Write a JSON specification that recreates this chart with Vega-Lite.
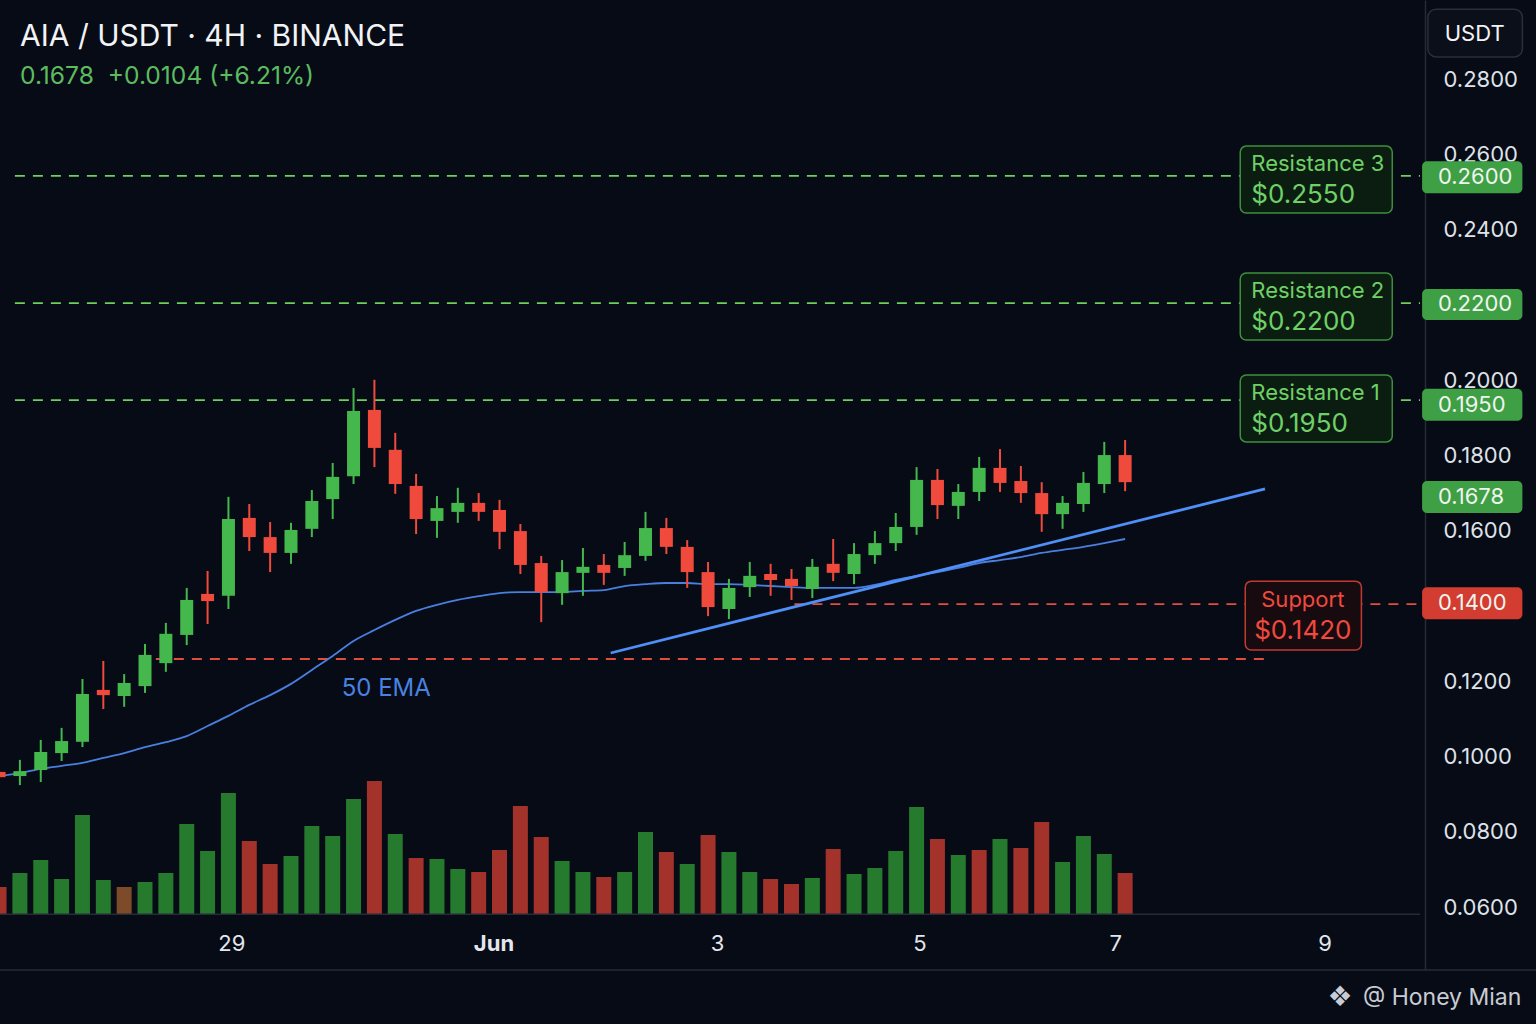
{
  "$schema": "https://vega.github.io/schema/vega-lite/v6.json",
  "width": 1425,
  "height": 970,
  "autosize": "none",
  "padding": {"left": 0, "top": 0, "right": 111, "bottom": 54},
  "background": "#060b16",
  "title": {
    "text": "AIA / USDT · 4H · BINANCE",
    "subtitle": "0.1678\u00a0 +0.0104 (+6.21%)",
    "anchor": "start",
    "frame": "group",
    "orient": "top",
    "offset": -89,
    "dx": 20,
    "font": "Inter",
    "fontSize": 30,
    "fontWeight": "normal",
    "color": "#f2f3f5",
    "subtitleFont": "Inter",
    "subtitleFontSize": 24.6,
    "subtitleColor": "#5dbb5f",
    "subtitlePadding": 13
  },
  "config": {"view": {"stroke": null}, "font": "Inter"},
  "datasets": {
    "candles": [
      {"i": 0, "o": 0.0959, "h": 0.0964, "l": 0.0940, "c": 0.0945, "v": 270, "vd": "d", "ema": 0.0948},
      {"i": 1, "o": 0.0948, "h": 0.0991, "l": 0.0924, "c": 0.0961, "v": 410, "vd": "u", "ema": 0.0956},
      {"i": 2, "o": 0.0964, "h": 0.1044, "l": 0.0932, "c": 0.1012, "v": 540, "vd": "u", "ema": 0.0967},
      {"i": 3, "o": 0.1009, "h": 0.1076, "l": 0.0988, "c": 0.1041, "v": 350, "vd": "u", "ema": 0.0975},
      {"i": 4, "o": 0.1039, "h": 0.1206, "l": 0.1025, "c": 0.1166, "v": 990, "vd": "u", "ema": 0.0983},
      {"i": 5, "o": 0.1177, "h": 0.1254, "l": 0.1126, "c": 0.1163, "v": 340, "vd": "u", "ema": 0.0996},
      {"i": 6, "o": 0.1161, "h": 0.1219, "l": 0.1132, "c": 0.1195, "v": 270, "vd": "m", "ema": 0.1009},
      {"i": 7, "o": 0.1187, "h": 0.1299, "l": 0.1169, "c": 0.1270, "v": 320, "vd": "u", "ema": 0.1025},
      {"i": 8, "o": 0.1248, "h": 0.1355, "l": 0.1225, "c": 0.1326, "v": 410, "vd": "u", "ema": 0.1038},
      {"i": 9, "o": 0.1323, "h": 0.1448, "l": 0.1296, "c": 0.1416, "v": 900, "vd": "u", "ema": 0.1054},
      {"i": 10, "o": 0.1432, "h": 0.1493, "l": 0.1352, "c": 0.1413, "v": 630, "vd": "u", "ema": 0.1081},
      {"i": 11, "o": 0.1427, "h": 0.1690, "l": 0.1392, "c": 0.1631, "v": 1210, "vd": "u", "ema": 0.1108},
      {"i": 12, "o": 0.1634, "h": 0.1671, "l": 0.1546, "c": 0.1583, "v": 730, "vd": "d", "ema": 0.1137},
      {"i": 13, "o": 0.1583, "h": 0.1623, "l": 0.1490, "c": 0.1541, "v": 500, "vd": "d", "ema": 0.1163},
      {"i": 14, "o": 0.1541, "h": 0.1621, "l": 0.1512, "c": 0.1602, "v": 580, "vd": "u", "ema": 0.1193},
      {"i": 15, "o": 0.1605, "h": 0.1708, "l": 0.1583, "c": 0.1679, "v": 880, "vd": "u", "ema": 0.1230},
      {"i": 16, "o": 0.1684, "h": 0.1780, "l": 0.1631, "c": 0.1743, "v": 780, "vd": "u", "ema": 0.1267},
      {"i": 17, "o": 0.1745, "h": 0.1979, "l": 0.1724, "c": 0.1918, "v": 1150, "vd": "u", "ema": 0.1307},
      {"i": 18, "o": 0.1921, "h": 0.2001, "l": 0.1769, "c": 0.1820, "v": 1330, "vd": "d", "ema": 0.1336},
      {"i": 19, "o": 0.1815, "h": 0.1860, "l": 0.1698, "c": 0.1724, "v": 800, "vd": "u", "ema": 0.1363},
      {"i": 20, "o": 0.1719, "h": 0.1751, "l": 0.1591, "c": 0.1631, "v": 560, "vd": "d", "ema": 0.1387},
      {"i": 21, "o": 0.1626, "h": 0.1692, "l": 0.1581, "c": 0.1660, "v": 550, "vd": "u", "ema": 0.1403},
      {"i": 22, "o": 0.1650, "h": 0.1714, "l": 0.1621, "c": 0.1674, "v": 450, "vd": "u", "ema": 0.1416},
      {"i": 23, "o": 0.1674, "h": 0.1700, "l": 0.1626, "c": 0.1650, "v": 420, "vd": "d", "ema": 0.1426},
      {"i": 24, "o": 0.1655, "h": 0.1682, "l": 0.1551, "c": 0.1597, "v": 640, "vd": "d", "ema": 0.1434},
      {"i": 25, "o": 0.1599, "h": 0.1618, "l": 0.1485, "c": 0.1509, "v": 1080, "vd": "d", "ema": 0.1437},
      {"i": 26, "o": 0.1514, "h": 0.1533, "l": 0.1357, "c": 0.1437, "v": 770, "vd": "d", "ema": 0.1437},
      {"i": 27, "o": 0.1434, "h": 0.1522, "l": 0.1403, "c": 0.1490, "v": 530, "vd": "u", "ema": 0.1437},
      {"i": 28, "o": 0.1488, "h": 0.1554, "l": 0.1427, "c": 0.1504, "v": 420, "vd": "u", "ema": 0.1440},
      {"i": 29, "o": 0.1509, "h": 0.1538, "l": 0.1456, "c": 0.1488, "v": 370, "vd": "d", "ema": 0.1442},
      {"i": 30, "o": 0.1501, "h": 0.1570, "l": 0.1480, "c": 0.1535, "v": 420, "vd": "u", "ema": 0.1453},
      {"i": 31, "o": 0.1533, "h": 0.1650, "l": 0.1520, "c": 0.1607, "v": 820, "vd": "u", "ema": 0.1458},
      {"i": 32, "o": 0.1607, "h": 0.1634, "l": 0.1538, "c": 0.1557, "v": 620, "vd": "d", "ema": 0.1461},
      {"i": 33, "o": 0.1557, "h": 0.1575, "l": 0.1448, "c": 0.1490, "v": 500, "vd": "u", "ema": 0.1461},
      {"i": 34, "o": 0.1490, "h": 0.1517, "l": 0.1373, "c": 0.1397, "v": 790, "vd": "d", "ema": 0.1458},
      {"i": 35, "o": 0.1392, "h": 0.1472, "l": 0.1365, "c": 0.1448, "v": 620, "vd": "u", "ema": 0.1458},
      {"i": 36, "o": 0.1450, "h": 0.1517, "l": 0.1424, "c": 0.1480, "v": 420, "vd": "u", "ema": 0.1456},
      {"i": 37, "o": 0.1485, "h": 0.1512, "l": 0.1427, "c": 0.1469, "v": 350, "vd": "d", "ema": 0.1453},
      {"i": 38, "o": 0.1472, "h": 0.1498, "l": 0.1416, "c": 0.1453, "v": 300, "vd": "d", "ema": 0.1450},
      {"i": 39, "o": 0.1445, "h": 0.1525, "l": 0.1421, "c": 0.1504, "v": 360, "vd": "u", "ema": 0.1448},
      {"i": 40, "o": 0.1512, "h": 0.1578, "l": 0.1466, "c": 0.1488, "v": 650, "vd": "d", "ema": 0.1448},
      {"i": 41, "o": 0.1485, "h": 0.1567, "l": 0.1458, "c": 0.1538, "v": 400, "vd": "u", "ema": 0.1448},
      {"i": 42, "o": 0.1535, "h": 0.1599, "l": 0.1512, "c": 0.1567, "v": 460, "vd": "u", "ema": 0.1456},
      {"i": 43, "o": 0.1567, "h": 0.1647, "l": 0.1546, "c": 0.1610, "v": 630, "vd": "u", "ema": 0.1469},
      {"i": 44, "o": 0.1610, "h": 0.1769, "l": 0.1589, "c": 0.1735, "v": 1070, "vd": "u", "ema": 0.1480},
      {"i": 45, "o": 0.1735, "h": 0.1764, "l": 0.1631, "c": 0.1668, "v": 750, "vd": "d", "ema": 0.1490},
      {"i": 46, "o": 0.1666, "h": 0.1724, "l": 0.1631, "c": 0.1703, "v": 590, "vd": "u", "ema": 0.1501},
      {"i": 47, "o": 0.1703, "h": 0.1796, "l": 0.1679, "c": 0.1767, "v": 640, "vd": "d", "ema": 0.1514},
      {"i": 48, "o": 0.1767, "h": 0.1817, "l": 0.1703, "c": 0.1727, "v": 750, "vd": "u", "ema": 0.1522},
      {"i": 49, "o": 0.1732, "h": 0.1772, "l": 0.1674, "c": 0.1700, "v": 660, "vd": "d", "ema": 0.1530},
      {"i": 50, "o": 0.1700, "h": 0.1729, "l": 0.1597, "c": 0.1644, "v": 920, "vd": "d", "ema": 0.1541},
      {"i": 51, "o": 0.1644, "h": 0.1692, "l": 0.1605, "c": 0.1674, "v": 520, "vd": "u", "ema": 0.1549},
      {"i": 52, "o": 0.1671, "h": 0.1756, "l": 0.1650, "c": 0.1727, "v": 780, "vd": "u", "ema": 0.1557},
      {"i": 53, "o": 0.1724, "h": 0.1836, "l": 0.1700, "c": 0.1801, "v": 600, "vd": "u", "ema": 0.1567},
      {"i": 54, "o": 0.1801, "h": 0.1841, "l": 0.1705, "c": 0.1729, "v": 410, "vd": "d", "ema": 0.1578}
    ],
    "levels": [
      {"name": "Resistance 3", "kind": "res", "p": 0.2543, "x1": 0.76, "x2": 68.14},
      {"name": "Resistance 2", "kind": "res", "p": 0.2205, "x1": 0.76, "x2": 68.14},
      {"name": "Resistance 1", "kind": "res", "p": 0.1947, "x1": 0.76, "x2": 68.14},
      {"name": "Support", "kind": "sup", "p": 0.1405, "x1": 38.14, "x2": 68.14},
      {"name": "Lower support", "kind": "sup", "p": 0.1259, "x1": 7.52, "x2": 60.67}
    ],
    "boxes": [
      {"name": "Resistance 3", "price": "$0.2550", "kind": "res", "x1": 59.52, "x2": 66.81, "y1": 0.2622, "y2": 0.2444, "tx": 60.05, "ny": 0.2575, "py": 0.2492},
      {"name": "Resistance 2", "price": "$0.2200", "kind": "res", "x1": 59.52, "x2": 66.81, "y1": 0.2285, "y2": 0.2107, "tx": 60.05, "ny": 0.2237, "py": 0.2155},
      {"name": "Resistance 1", "price": "$0.1950", "kind": "res", "x1": 59.52, "x2": 66.81, "y1": 0.2014, "y2": 0.1836, "tx": 60.05, "ny": 0.1966, "py": 0.1884},
      {"name": "Support", "price": "$0.1420", "kind": "sup", "x1": 59.76, "x2": 65.33, "y1": 0.1466, "y2": 0.1283, "tx": 62.52, "ny": 0.1416, "py": 0.1334}
    ],
    "pills": [
      {"label": "0.2600", "kind": "res", "y1": 0.2582, "y2": 0.2497, "ty": 0.2540},
      {"label": "0.2200", "kind": "res", "y1": 0.2242, "y2": 0.2160, "ty": 0.2202},
      {"label": "0.1950", "kind": "res", "y1": 0.1977, "y2": 0.1892, "ty": 0.1934},
      {"label": "0.1678", "kind": "last", "y1": 0.1732, "y2": 0.1647, "ty": 0.1690},
      {"label": "0.1400", "kind": "sup", "y1": 0.1450, "y2": 0.1365, "ty": 0.1408}
    ],
    "trend": [
      {"i": 29.33, "p": 0.1275},
      {"i": 60.71, "p": 0.1711}
    ]
  },
  "layer": [
    {
      "data": {"name": "candles"},
      "mark": {"type": "bar", "width": 15, "orient": "vertical"},
      "encoding": {
        "x": {
          "field": "i", "type": "quantitative",
          "scale": {"domain": [0.2857, 68.14], "nice": false, "zero": false},
          "axis": {
            "values": [11.14, 23.71, 34.43, 44.14, 53.52, 63.57],
            "labelExpr": "datum.value < 15 ? '29' : datum.value < 30 ? 'Jun' : datum.value < 40 ? '3' : datum.value < 50 ? '5' : datum.value < 60 ? '7' : '9'",
            "title": null, "domain": false, "ticks": false, "grid": false,
            "labelPadding": -27, "labelBaseline": "middle",
            "labelFont": "Inter", "labelFontSize": 22, "labelColor": "#e3e6ec",
            "labelFontWeight": {"condition": {"test": "datum.value > 20 && datum.value < 30", "value": "bold"}, "value": "normal"},
            "labelOverlap": false, "labelFlush": false
          }
        },
        "y": {
          "field": "v", "type": "quantitative", "stack": null,
          "scale": {"domain": [-560, 9140], "nice": false, "zero": false},
          "axis": null
        },
        "y2": {"datum": 0},
        "color": {
          "field": "vd", "type": "nominal",
          "scale": {"domain": ["u", "d", "m"], "range": ["#257a2e", "#a3322b", "#7d4a2a"]},
          "legend": null
        }
      }
    },
    {
      "data": {"values": [{}]},
      "mark": {"type": "rule", "color": "#262b36", "strokeWidth": 1.5},
      "encoding": {
        "x": {"datum": -1, "type": "quantitative", "scale": {"domain": [0.2857, 68.14], "nice": false, "zero": false}, "axis": null},
        "x2": {"datum": 68.14},
        "y": {"datum": 0.0581, "type": "quantitative", "scale": {"domain": [0.04326, 0.30103], "nice": false, "zero": false}, "axis": null}
      }
    },
    {
      "data": {"name": "levels"},
      "transform": [{"filter": "datum.kind == 'res'"}],
      "mark": {"type": "rule", "color": "#6ccf5e", "strokeWidth": 1.8, "strokeDash": [10, 8]},
      "encoding": {
        "x": {"field": "x1", "type": "quantitative", "scale": {"domain": [0.2857, 68.14], "nice": false, "zero": false}, "axis": null},
        "x2": {"field": "x2"},
        "y": {"field": "p", "type": "quantitative", "scale": {"domain": [0.04326, 0.30103], "nice": false, "zero": false}, "axis": null}
      }
    },
    {
      "data": {"name": "levels"},
      "transform": [{"filter": "datum.kind == 'sup'"}],
      "mark": {"type": "rule", "color": "#e24d42", "strokeWidth": 1.8, "strokeDash": [10, 8]},
      "encoding": {
        "x": {"field": "x1", "type": "quantitative", "scale": {"domain": [0.2857, 68.14], "nice": false, "zero": false}, "axis": null},
        "x2": {"field": "x2"},
        "y": {"field": "p", "type": "quantitative", "scale": {"domain": [0.04326, 0.30103], "nice": false, "zero": false}, "axis": null}
      }
    },
    {
      "data": {"name": "candles"},
      "mark": {"type": "line", "color": "#4a7fe0", "strokeWidth": 1.8, "interpolate": "monotone"},
      "encoding": {
        "x": {"field": "i", "type": "quantitative", "scale": {"domain": [0.2857, 68.14], "nice": false, "zero": false}, "axis": null},
        "y": {"field": "ema", "type": "quantitative", "scale": {"domain": [0.04326, 0.30103], "nice": false, "zero": false}, "axis": null}
      }
    },
    {
      "data": {"name": "trend"},
      "mark": {"type": "line", "color": "#4f8ff7", "strokeWidth": 2.8},
      "encoding": {
        "x": {"field": "i", "type": "quantitative", "scale": {"domain": [0.2857, 68.14], "nice": false, "zero": false}, "axis": null},
        "y": {"field": "p", "type": "quantitative", "scale": {"domain": [0.04326, 0.30103], "nice": false, "zero": false}, "axis": null}
      }
    },
    {
      "data": {"name": "candles"},
      "mark": {"type": "rule", "strokeWidth": 2},
      "encoding": {
        "x": {"field": "i", "type": "quantitative", "scale": {"domain": [0.2857, 68.14], "nice": false, "zero": false}, "axis": null},
        "y": {
          "field": "l", "type": "quantitative",
          "scale": {"domain": [0.04326, 0.30103], "nice": false, "zero": false},
          "axis": {
            "orient": "right",
            "values": [0.06, 0.08, 0.1, 0.12, 0.16, 0.18, 0.2, 0.24, 0.26, 0.28],
            "format": ".4f", "title": null, "ticks": false, "grid": false,
            "domain": true, "domainColor": "#262b36", "domainWidth": 1.5,
            "labelPadding": 18, "labelFont": "Inter", "labelFontSize": 22,
            "labelColor": "#dfe2e8", "labelBaseline": "middle",
            "labelOverlap": false, "labelFlush": false
          }
        },
        "y2": {"field": "h"},
        "color": {"condition": {"test": "datum.c >= datum.o", "value": "#45b84d"}, "value": "#f04a3d"}
      }
    },
    {
      "data": {"name": "candles"},
      "mark": {"type": "bar", "width": 13},
      "encoding": {
        "x": {"field": "i", "type": "quantitative", "scale": {"domain": [0.2857, 68.14], "nice": false, "zero": false}, "axis": null},
        "y": {"field": "o", "type": "quantitative", "scale": {"domain": [0.04326, 0.30103], "nice": false, "zero": false}, "axis": null},
        "y2": {"field": "c"},
        "color": {"condition": {"test": "datum.c >= datum.o", "value": "#45b84d"}, "value": "#f04a3d"}
      }
    },
    {
      "data": {"values": [{"label": "50 EMA"}]},
      "mark": {"type": "text", "color": "#4a82e0", "fontSize": 24, "font": "Inter", "align": "center", "baseline": "middle"},
      "encoding": {
        "x": {"datum": 18.57, "type": "quantitative", "scale": {"domain": [0.2857, 68.14], "nice": false, "zero": false}, "axis": null},
        "y": {"datum": 0.1179, "type": "quantitative", "scale": {"domain": [0.04326, 0.30103], "nice": false, "zero": false}, "axis": null},
        "text": {"field": "label"}
      }
    },
    {
      "data": {"name": "boxes"},
      "transform": [{"filter": "datum.kind == 'res'"}],
      "mark": {"type": "rect", "fill": "#0b1d10", "stroke": "#3e8e3e", "strokeWidth": 1.5, "cornerRadius": 6},
      "encoding": {
        "x": {"field": "x1", "type": "quantitative", "scale": {"domain": [0.2857, 68.14], "nice": false, "zero": false}, "axis": null},
        "x2": {"field": "x2"},
        "y": {"field": "y1", "type": "quantitative", "scale": {"domain": [0.04326, 0.30103], "nice": false, "zero": false}, "axis": null},
        "y2": {"field": "y2"}
      }
    },
    {
      "data": {"name": "boxes"},
      "transform": [{"filter": "datum.kind == 'sup'"}],
      "mark": {"type": "rect", "fill": "#170b10", "stroke": "#c23a30", "strokeWidth": 1.5, "cornerRadius": 6},
      "encoding": {
        "x": {"field": "x1", "type": "quantitative", "scale": {"domain": [0.2857, 68.14], "nice": false, "zero": false}, "axis": null},
        "x2": {"field": "x2"},
        "y": {"field": "y1", "type": "quantitative", "scale": {"domain": [0.04326, 0.30103], "nice": false, "zero": false}, "axis": null},
        "y2": {"field": "y2"}
      }
    },
    {
      "data": {"name": "boxes"},
      "transform": [{"filter": "datum.kind == 'res'"}],
      "mark": {"type": "text", "color": "#6fd068", "fontSize": 22, "font": "Inter", "align": "left", "baseline": "middle"},
      "encoding": {
        "x": {"field": "tx", "type": "quantitative", "scale": {"domain": [0.2857, 68.14], "nice": false, "zero": false}, "axis": null},
        "y": {"field": "ny", "type": "quantitative", "scale": {"domain": [0.04326, 0.30103], "nice": false, "zero": false}, "axis": null},
        "text": {"field": "name"}
      }
    },
    {
      "data": {"name": "boxes"},
      "transform": [{"filter": "datum.kind == 'res'"}],
      "mark": {"type": "text", "color": "#6fd068", "fontSize": 26, "font": "Inter", "align": "left", "baseline": "middle"},
      "encoding": {
        "x": {"field": "tx", "type": "quantitative", "scale": {"domain": [0.2857, 68.14], "nice": false, "zero": false}, "axis": null},
        "y": {"field": "py", "type": "quantitative", "scale": {"domain": [0.04326, 0.30103], "nice": false, "zero": false}, "axis": null},
        "text": {"field": "price"}
      }
    },
    {
      "data": {"name": "boxes"},
      "transform": [{"filter": "datum.kind == 'sup'"}],
      "mark": {"type": "text", "color": "#f0493e", "fontSize": 22, "font": "Inter", "align": "center", "baseline": "middle"},
      "encoding": {
        "x": {"field": "tx", "type": "quantitative", "scale": {"domain": [0.2857, 68.14], "nice": false, "zero": false}, "axis": null},
        "y": {"field": "ny", "type": "quantitative", "scale": {"domain": [0.04326, 0.30103], "nice": false, "zero": false}, "axis": null},
        "text": {"field": "name"}
      }
    },
    {
      "data": {"name": "boxes"},
      "transform": [{"filter": "datum.kind == 'sup'"}],
      "mark": {"type": "text", "color": "#f0493e", "fontSize": 26, "font": "Inter", "align": "center", "baseline": "middle"},
      "encoding": {
        "x": {"field": "tx", "type": "quantitative", "scale": {"domain": [0.2857, 68.14], "nice": false, "zero": false}, "axis": null},
        "y": {"field": "py", "type": "quantitative", "scale": {"domain": [0.04326, 0.30103], "nice": false, "zero": false}, "axis": null},
        "text": {"field": "price"}
      }
    },
    {
      "data": {"name": "pills"},
      "transform": [{"filter": "datum.kind != 'sup'"}],
      "mark": {"type": "rect", "fill": "#3f9f45", "cornerRadius": 5},
      "encoding": {
        "x": {"datum": 68.24, "type": "quantitative", "scale": {"domain": [0.2857, 68.14], "nice": false, "zero": false}, "axis": null},
        "x2": {"datum": 73.05},
        "y": {"field": "y1", "type": "quantitative", "scale": {"domain": [0.04326, 0.30103], "nice": false, "zero": false}, "axis": null},
        "y2": {"field": "y2"}
      }
    },
    {
      "data": {"name": "pills"},
      "transform": [{"filter": "datum.kind == 'sup'"}],
      "mark": {"type": "rect", "fill": "#d33c30", "cornerRadius": 5},
      "encoding": {
        "x": {"datum": 68.24, "type": "quantitative", "scale": {"domain": [0.2857, 68.14], "nice": false, "zero": false}, "axis": null},
        "x2": {"datum": 73.05},
        "y": {"field": "y1", "type": "quantitative", "scale": {"domain": [0.04326, 0.30103], "nice": false, "zero": false}, "axis": null},
        "y2": {"field": "y2"}
      }
    },
    {
      "data": {"name": "pills"},
      "mark": {"type": "text", "color": "#eef5ee", "fontSize": 22, "font": "Inter", "align": "left", "baseline": "middle"},
      "encoding": {
        "x": {"datum": 69.0, "type": "quantitative", "scale": {"domain": [0.2857, 68.14], "nice": false, "zero": false}, "axis": null},
        "y": {"field": "ty", "type": "quantitative", "scale": {"domain": [0.04326, 0.30103], "nice": false, "zero": false}, "axis": null},
        "text": {"field": "label"}
      }
    },
    {
      "data": {"values": [{}]},
      "mark": {"type": "rect", "fill": "#0a0f1a", "stroke": "#2a2f3a", "strokeWidth": 1.5, "cornerRadius": 8},
      "encoding": {
        "x": {"datum": 68.52, "type": "quantitative", "scale": {"domain": [0.2857, 68.14], "nice": false, "zero": false}, "axis": null},
        "x2": {"datum": 73.05},
        "y": {"datum": 0.2986, "type": "quantitative", "scale": {"domain": [0.04326, 0.30103], "nice": false, "zero": false}, "axis": null},
        "y2": {"datum": 0.2859}
      }
    },
    {
      "data": {"values": [{"label": "USDT"}]},
      "mark": {"type": "text", "color": "#f2f3f5", "fontSize": 22, "font": "Inter", "align": "center", "baseline": "middle"},
      "encoding": {
        "x": {"datum": 70.76, "type": "quantitative", "scale": {"domain": [0.2857, 68.14], "nice": false, "zero": false}, "axis": null},
        "y": {"datum": 0.2920, "type": "quantitative", "scale": {"domain": [0.04326, 0.30103], "nice": false, "zero": false}, "axis": null},
        "text": {"field": "label"}
      }
    },
    {
      "data": {"values": [{}]},
      "mark": {"type": "rule", "color": "#262b36", "strokeWidth": 1.5},
      "encoding": {
        "x": {"datum": -1, "type": "quantitative", "scale": {"domain": [0.2857, 68.14], "nice": false, "zero": false}, "axis": null},
        "x2": {"datum": 75},
        "y": {"datum": 0.04326, "type": "quantitative", "scale": {"domain": [0.04326, 0.30103], "nice": false, "zero": false}, "axis": null}
      }
    },
    {
      "data": {"values": [{"label": "@ Honey Mian"}]},
      "mark": {"type": "text", "color": "#c8ccd4", "fontSize": 23, "font": "Inter", "align": "right", "baseline": "middle"},
      "encoding": {
        "x": {"datum": 73.0, "type": "quantitative", "scale": {"domain": [0.2857, 68.14], "nice": false, "zero": false}, "axis": null},
        "y": {"datum": 0.0358, "type": "quantitative", "scale": {"domain": [0.04326, 0.30103], "nice": false, "zero": false}, "axis": null},
        "text": {"field": "label"}
      }
    },
    {
      "data": {"values": [{"label": "❖"}]},
      "mark": {"type": "text", "color": "#c8ccd4", "fontSize": 28, "font": "DejaVu Sans", "align": "center", "baseline": "middle"},
      "encoding": {
        "x": {"datum": 64.3, "type": "quantitative", "scale": {"domain": [0.2857, 68.14], "nice": false, "zero": false}, "axis": null},
        "y": {"datum": 0.0358, "type": "quantitative", "scale": {"domain": [0.04326, 0.30103], "nice": false, "zero": false}, "axis": null},
        "text": {"field": "label"}
      }
    }
  ],
  "resolve": {"scale": {"y": "independent"}, "axis": {"x": "independent", "y": "independent"}}
}
